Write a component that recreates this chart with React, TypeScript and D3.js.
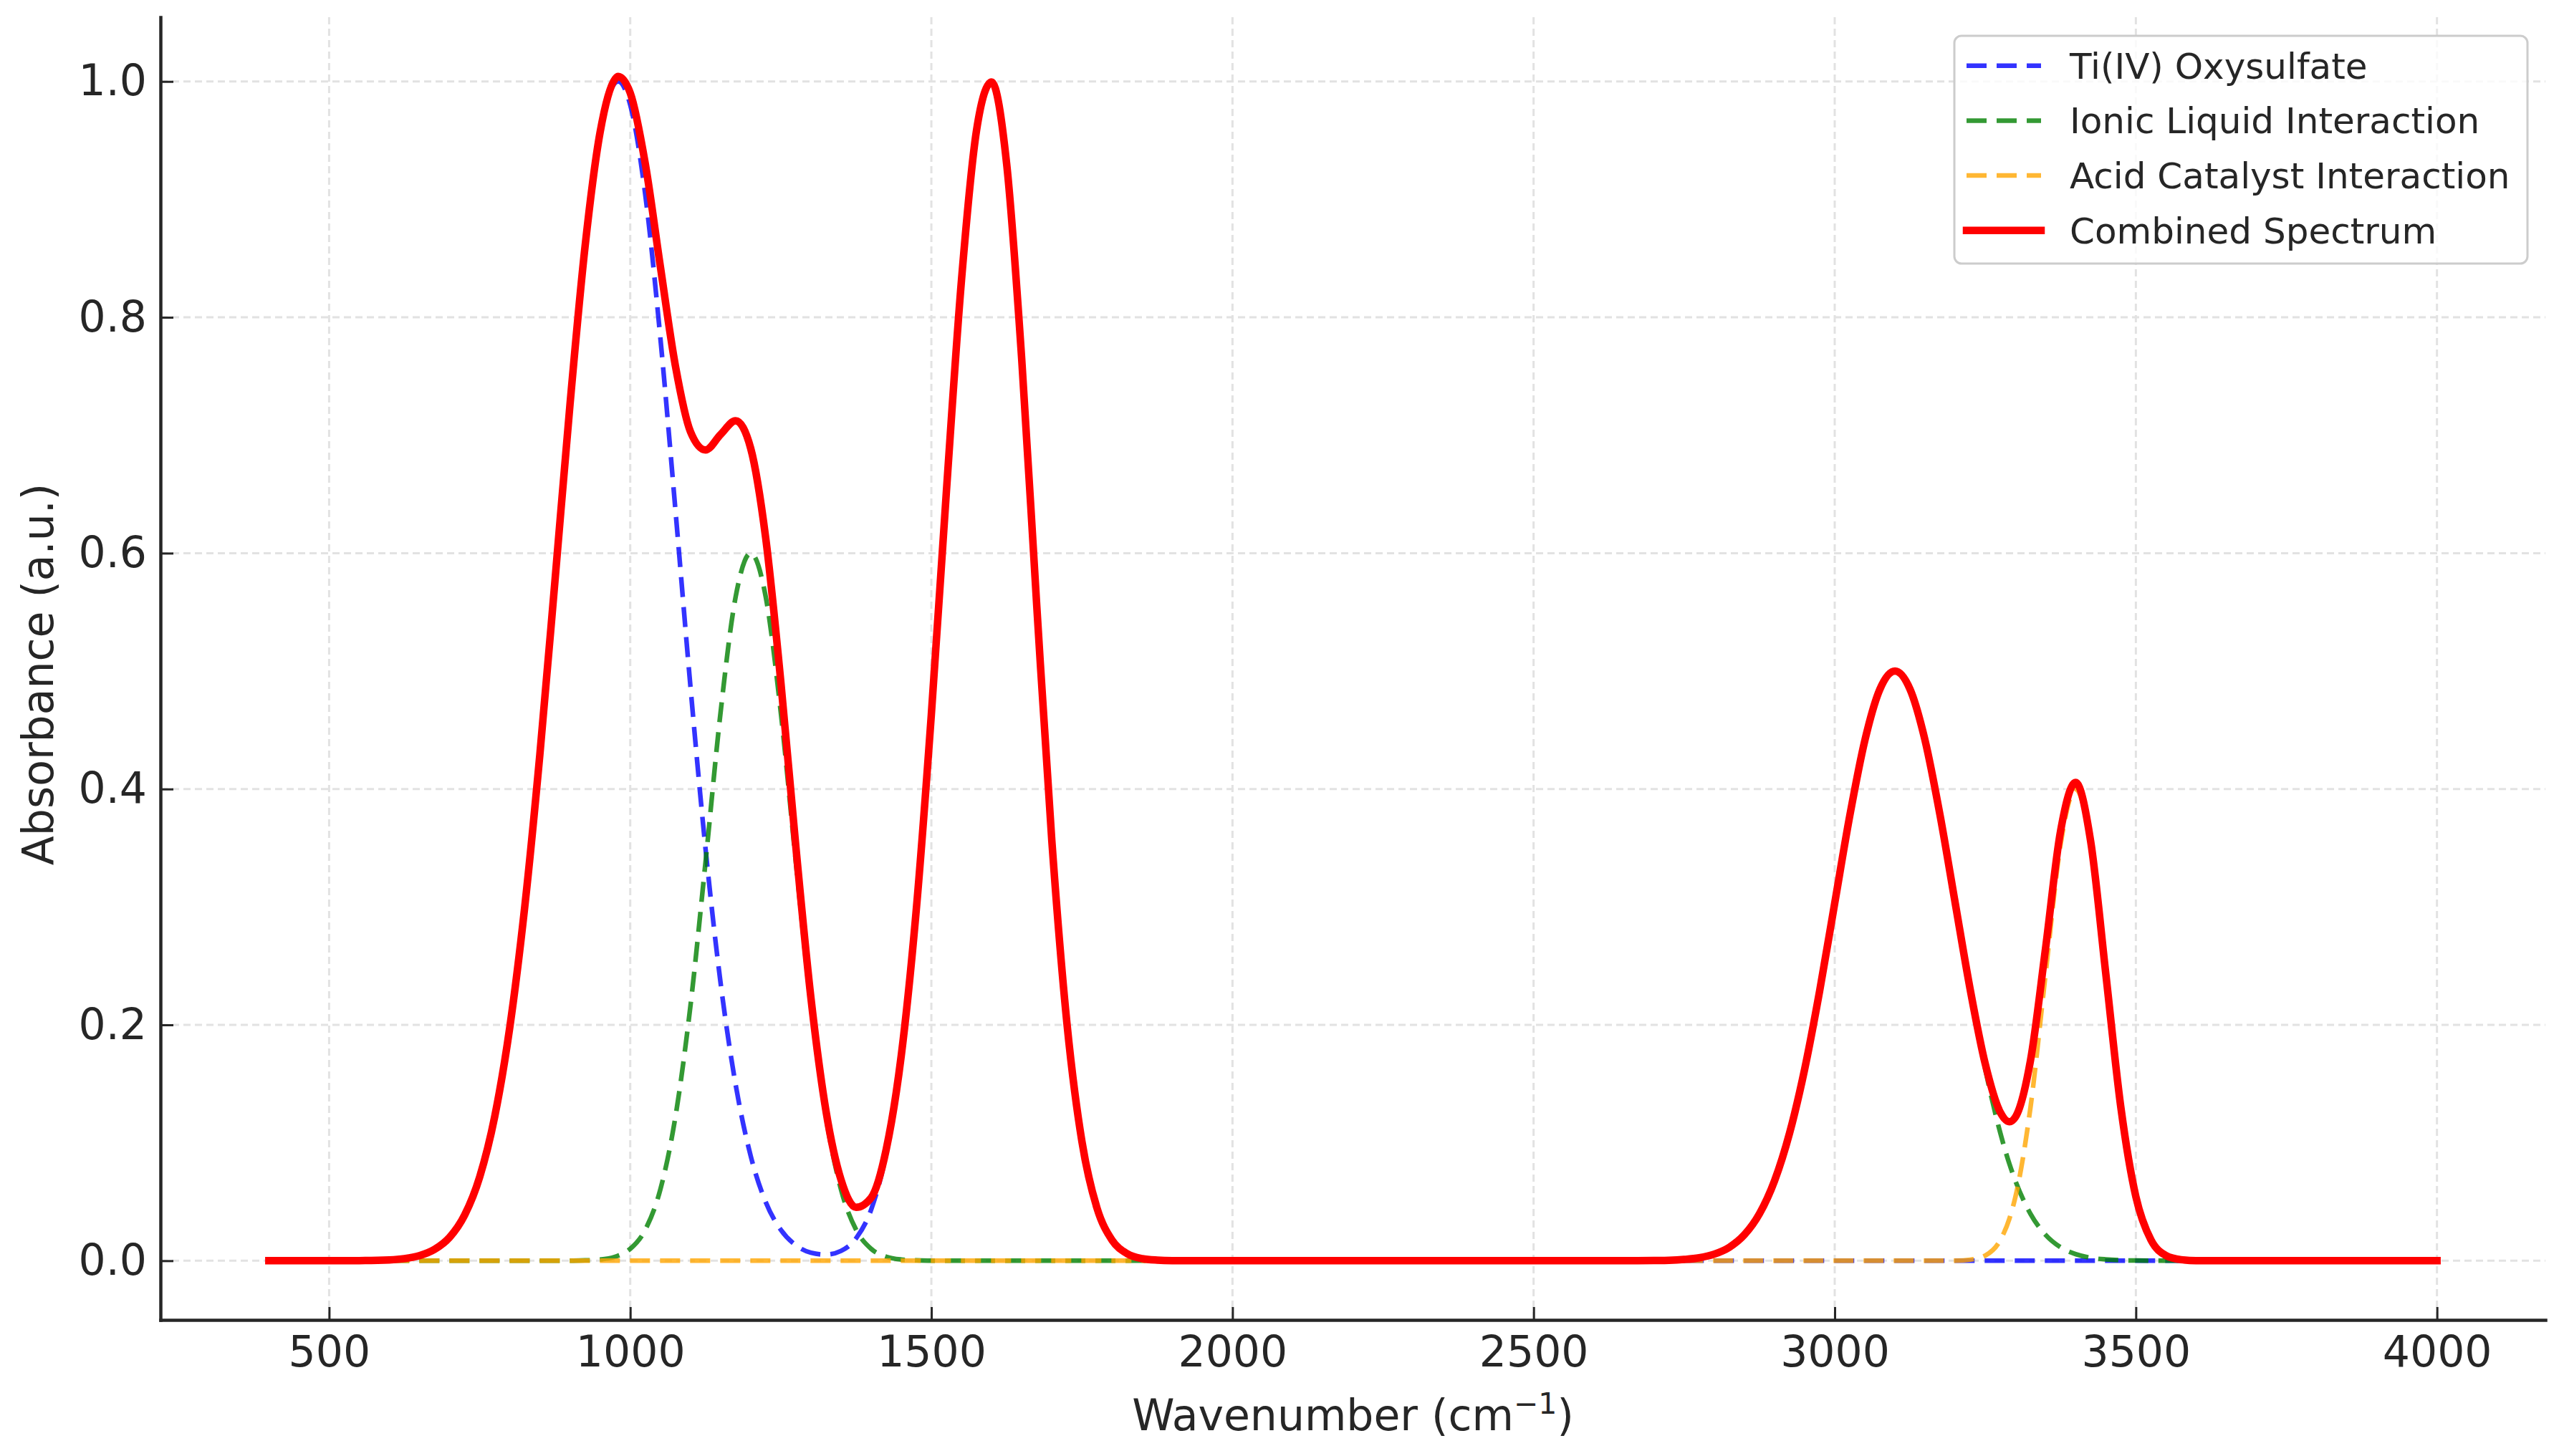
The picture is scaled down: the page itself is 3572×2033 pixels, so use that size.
import React, { useEffect, useRef } from 'react';
import * as d3 from 'd3';

const width = 3572;
const height = 2033;
const plot = { left: 224, right: 3553, top: 24, bottom: 1843 };

// wavenumber grid (cm-1), denser where the bands are
const wavenumbers = [
  400, 450, 500, 550, 600,
  625, 650, 675, 700, 725, 750, 775, 800, 825, 850, 875, 900, 925, 950, 975,
  980,
  1000, 1025, 1050, 1075, 1100, 1125, 1150, 1175, 1200, 1225, 1250, 1275,
  1300, 1325, 1350, 1375, 1400, 1425, 1450, 1475, 1500, 1525, 1550, 1575,
  1600, 1625, 1650, 1675, 1700, 1725, 1750, 1775, 1800, 1825, 1850, 1875, 1900,
  1950, 2000, 2100, 2200, 2300, 2400, 2500, 2600, 2650,
  2700, 2725, 2750, 2775, 2800, 2825, 2850, 2875, 2900, 2925, 2950, 2975,
  3000, 3025, 3050, 3075, 3100, 3125, 3150, 3175, 3200, 3225, 3250, 3275,
  3290,
  3300, 3325, 3350, 3375, 3400, 3425, 3450, 3475, 3500, 3525, 3550, 3575, 3600,
  3650, 3700, 3800, 3900, 4000,
];

const tiOxysulfate = [
  0, 0, 0, 0.0001, 0.0007,
  0.0018, 0.0043, 0.0096, 0.0198, 0.0387, 0.071, 0.1223, 0.1979, 0.3008, 0.4296, 0.5764, 0.7261, 0.8598, 0.956, 0.9988,
  1.0,
  0.9802, 0.9039, 0.7827, 0.6369, 0.4868, 0.3495, 0.2357, 0.1494, 0.0889, 0.0497, 0.0262, 0.0131,
  0.0068, 0.0052, 0.0083, 0.019, 0.0433, 0.0909, 0.1729, 0.2976, 0.4633, 0.6525, 0.8314, 0.9585,
  0.9996, 0.9302, 0.7648, 0.5554, 0.3563, 0.2019, 0.1011, 0.0447, 0.0175, 0.006, 0.0018, 0.0005, 0.0001,
  0, 0, 0, 0, 0, 0, 0, 0, 0,
  0, 0, 0, 0, 0, 0, 0, 0, 0, 0, 0, 0,
  0, 0, 0, 0, 0, 0, 0, 0, 0, 0, 0, 0,
  0,
  0, 0, 0, 0, 0, 0, 0, 0, 0, 0, 0, 0, 0,
  0, 0, 0, 0, 0,
];

const ionicLiquid = [
  0, 0, 0, 0, 0,
  0, 0, 0, 0, 0, 0, 0, 0, 0, 0, 0, 0.0001, 0.0003, 0.001, 0.0034,
  0.0043,
  0.0101, 0.0263, 0.0604, 0.1219, 0.2162, 0.338, 0.4649, 0.5629, 0.6, 0.5629, 0.4649, 0.338,
  0.2162, 0.1219, 0.0604, 0.0263, 0.0101, 0.0034, 0.001, 0.0003, 0.0001, 0, 0, 0,
  0, 0, 0, 0, 0, 0, 0, 0, 0, 0, 0, 0, 0,
  0, 0, 0, 0, 0, 0, 0, 0, 0,
  0.0002, 0.0004, 0.0011, 0.0025, 0.0056, 0.0114, 0.022, 0.0398, 0.0677, 0.1082, 0.1623, 0.2289,
  0.3033, 0.3774, 0.4412, 0.4846, 0.5, 0.4846, 0.4412, 0.3774, 0.3033, 0.2289, 0.1623, 0.1082,
  0.0822,
  0.0677, 0.0398, 0.022, 0.0114, 0.0056, 0.0025, 0.0011, 0.0004, 0.0002, 0.0001, 0, 0, 0,
  0, 0, 0, 0, 0,
];

const acidCatalyst = [
  0, 0, 0, 0, 0,
  0, 0, 0, 0, 0, 0, 0, 0, 0, 0, 0, 0, 0, 0, 0,
  0,
  0, 0, 0, 0, 0, 0, 0, 0, 0, 0, 0, 0,
  0, 0, 0, 0, 0, 0, 0, 0, 0, 0, 0, 0,
  0, 0, 0, 0, 0, 0, 0, 0, 0, 0, 0, 0, 0,
  0, 0, 0, 0, 0, 0, 0, 0, 0,
  0, 0, 0, 0, 0, 0, 0, 0, 0, 0, 0, 0,
  0, 0, 0, 0, 0, 0, 0, 0, 0.0001, 0.0009, 0.0044, 0.0176,
  0.0356,
  0.0541, 0.1299, 0.2426, 0.353, 0.4, 0.353, 0.2426, 0.1299, 0.0541, 0.0176, 0.0044, 0.0009, 0.0001,
  0, 0, 0, 0, 0,
];

const combined = [
  0, 0, 0, 0.0001, 0.0007,
  0.0018, 0.0043, 0.0096, 0.0198, 0.0387, 0.071, 0.1223, 0.1979, 0.3008, 0.4296, 0.5764, 0.7262, 0.8601, 0.957, 1.0022,
  1.0043,
  0.9903, 0.9302, 0.8431, 0.7588, 0.703, 0.6875, 0.7006, 0.7123, 0.6889, 0.6126, 0.4911, 0.3511,
  0.223, 0.1271, 0.0687, 0.0453, 0.0534, 0.0943, 0.1739, 0.2979, 0.4634, 0.6525, 0.8314, 0.9585,
  0.9996, 0.9302, 0.7648, 0.5554, 0.3563, 0.2019, 0.1011, 0.0447, 0.0175, 0.006, 0.0018, 0.0005, 0.0001,
  0, 0, 0, 0, 0, 0, 0, 0, 0,
  0.0002, 0.0004, 0.0011, 0.0025, 0.0056, 0.0114, 0.022, 0.0398, 0.0677, 0.1082, 0.1623, 0.2289,
  0.3033, 0.3774, 0.4412, 0.4846, 0.5, 0.4846, 0.4412, 0.3774, 0.3034, 0.2298, 0.1667, 0.1258,
  0.1178,
  0.1218, 0.1697, 0.2646, 0.3644, 0.4056, 0.3555, 0.2437, 0.1303, 0.0543, 0.0177, 0.0044, 0.0009, 0.0001,
  0, 0, 0, 0, 0,
];

const xTicks = [500, 1000, 1500, 2000, 2500, 3000, 3500, 4000];
const yTicks = [0, 0.2, 0.4, 0.6, 0.8, 1.0];

const seriesNames = ['Ti(IV) Oxysulfate', 'Ionic Liquid Interaction', 'Acid Catalyst Interaction', 'Combined Spectrum'];
const seriesColors = ['#0000ff', '#008000', '#ffa500', '#ff0000'];

const font = '"DejaVu Sans", sans-serif';
const ink = '#262626';

const x = d3.scaleLinear().domain([220, 4180]).range([plot.left, plot.right]);
const y = d3.scaleLinear().domain([-0.0502, 1.0545]).range([plot.bottom, plot.top]);

const line = d3.line<number>()
  .x((_, i) => x(wavenumbers[i]))
  .y(d => y(d))
  .curve(d3.curveMonotoneX);

const series = [tiOxysulfate, ionicLiquid, acidCatalyst, combined];

export default function App() {
  const xAxisRef = useRef<SVGGElement>(null);
  const yAxisRef = useRef<SVGGElement>(null);

  useEffect(() => {
    const xAxis = d3.axisBottom(x)
      .tickValues(xTicks)
      .tickFormat(d3.format('d'))
      .tickSize(-18)
      .tickSizeOuter(0)
      .tickPadding(22);
    const yAxis = d3.axisLeft(y)
      .tickValues(yTicks)
      .tickFormat(d3.format('.1f'))
      .tickSize(-18)
      .tickSizeOuter(0)
      .tickPadding(19);

    [d3.select(xAxisRef.current).call(xAxis), d3.select(yAxisRef.current).call(yAxis)]
      .forEach((g: any) => {
        g.attr('font-size', 60).attr('font-family', font);
        g.select('.domain').attr('stroke', ink).attr('stroke-width', 4.5).attr('stroke-linecap', 'square');
        g.selectAll('.tick line').attr('stroke', ink).attr('stroke-width', 3);
        g.selectAll('.tick text').attr('fill', ink);
      });
  }, []);

  return (
    <div style={{ position: 'absolute', left: 0, top: 0 }}>
      <svg width={width} height={height} style={{ display: 'block' }}>
        <rect width={width} height={height} fill="#ffffff" />

        {/* grid */}
        <g stroke="#e2e2e2" strokeWidth={3} strokeDasharray="10 6">
          {xTicks.map(t => (
            <line key={`gx${t}`} x1={x(t)} x2={x(t)} y1={plot.top} y2={plot.bottom} />
          ))}
          {yTicks.map(t => (
            <line key={`gy${t}`} x1={plot.left} x2={plot.right} y1={y(t)} y2={y(t)} />
          ))}
        </g>

        {/* components, then the combined spectrum on top */}
        {series.map((values, i) => (
          <path
            key={seriesNames[i]}
            d={line(values) || ''}
            fill="none"
            stroke={seriesColors[i]}
            strokeOpacity={i < 3 ? 0.8 : 1}
            strokeWidth={i < 3 ? 6.5 : 10.5}
            strokeDasharray={i < 3 ? '28 14' : undefined}
            strokeLinecap={i < 3 ? 'butt' : 'square'}
            strokeLinejoin="round"
          />
        ))}

        <g ref={xAxisRef} transform={`translate(0, ${plot.bottom})`} />
        <g ref={yAxisRef} transform={`translate(${plot.left}, 0)`} />

        <text
          x={(plot.left + plot.right) / 2}
          y={1997}
          textAnchor="middle"
          fontFamily={font}
          fontSize={60}
          fill={ink}
        >
          Wavenumber (cm
          <tspan fontSize={41} dy={-23}>−1</tspan>
          <tspan dy={23}>)</tspan>
        </text>
        <text
          transform={`translate(74, ${(plot.top + plot.bottom) / 2 + 8}) rotate(-90)`}
          textAnchor="middle"
          fontFamily={font}
          fontSize={60}
          fill={ink}
        >
          Absorbance (a.u.)
        </text>

        {/* legend */}
        <g fontFamily={font} fontSize={50} fill={ink}>
          <rect x={2728} y={50} width={800} height={318} rx={10} fill="#ffffff" fillOpacity={0.8} stroke="#cccccc" strokeWidth={3} />
          {seriesNames.map((name, i) => {
            const cy = 91.7 + i * 76.7;
            return (
              <g key={name}>
                <line
                  x1={2745}
                  x2={2849}
                  y1={cy}
                  y2={cy}
                  stroke={seriesColors[i]}
                  strokeOpacity={i < 3 ? 0.8 : 1}
                  strokeWidth={i < 3 ? 6.5 : 10.5}
                  strokeDasharray={i < 3 ? '28 14' : undefined}
                  strokeLinecap={i < 3 ? 'butt' : 'square'}
                />
                <text x={2889} y={cy + 18}>{name}</text>
              </g>
            );
          })}
        </g>
      </svg>
    </div>
  );
}
